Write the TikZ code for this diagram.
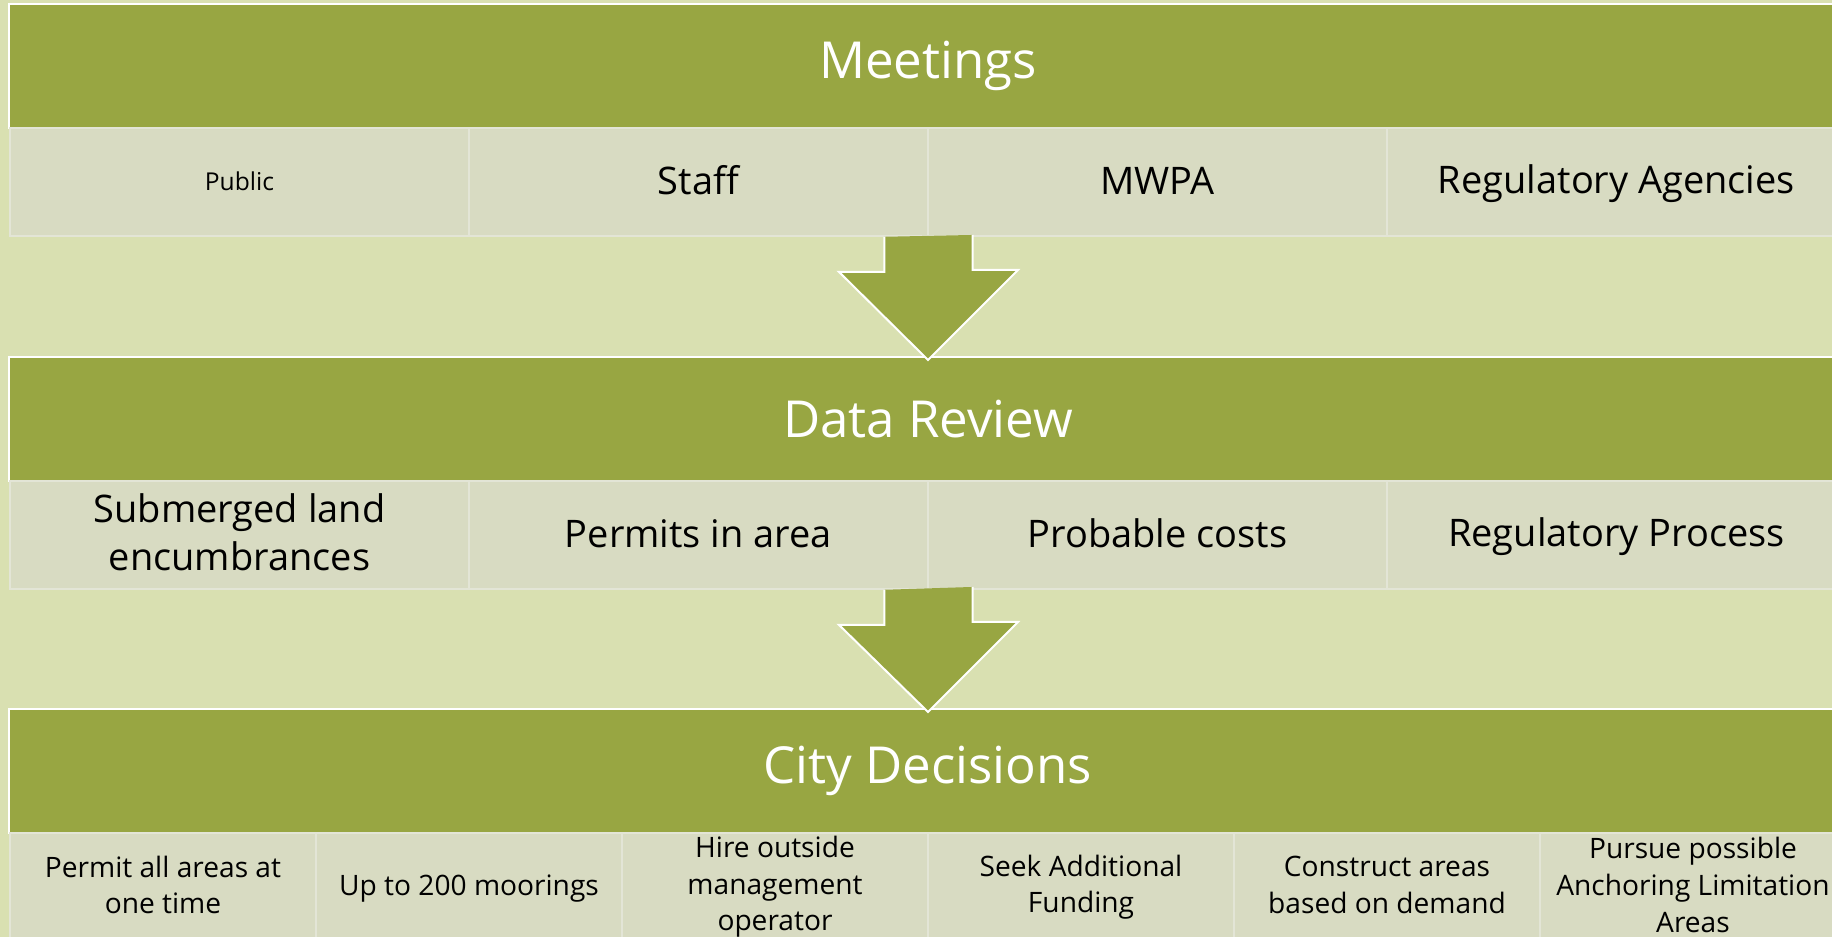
\documentclass[tikz,border=0pt]{standalone}
\usepackage{fontspec}
\setmainfont{Open Sans}

\definecolor{hdrgreen}{HTML}{98A642}
\definecolor{pagebg}{HTML}{D9E0B1}
\definecolor{cellfill}{HTML}{D8DBC2}
\definecolor{celledge}{HTML}{E3E5D6}

% same height and depth for every cell text
\newcommand{\cellstrut}{\rule[-0.16em]{0pt}{1.0em}}

\tikzset{
  header/.style={fill=hdrgreen, draw=white, line width=0.02cm, text=white,
    minimum width=18.36cm, minimum height=1.24cm, inner sep=0pt,
    font=\fontsize{14.5}{17}\selectfont},
  cell/.style={fill=cellfill, draw=celledge, line width=0.015cm, text=black,
    minimum width=4.59cm, minimum height=1.08cm, inner sep=0pt, align=center,
    font=\fontsize{10.8}{13.5}\selectfont,
    execute at begin node=\cellstrut, execute at end node=\cellstrut},
  smallcell/.style={cell, minimum width=3.06cm, font=\fontsize{8}{10.4}\selectfont},
  downarrow/.style={fill=hdrgreen, draw=white, line width=0.02cm, line join=miter}
}

\begin{document}
\begin{tikzpicture}[x=0.01cm, y=-0.01cm]
  \useasboundingbox (0,0) rectangle (1832,937);
  \clip (0,0) rectangle (1832,937);
  \fill[pagebg] (0,0) rectangle (1832,937);

  % Meetings
  \node[header] (meet) at (928,66) {Meetings};
  \node[cell, font=\fontsize{7}{8}\selectfont] (public) at (239.5,182) {Public};
  \node[cell] (staff) at (698.5,182) {Staff};
  \node[cell] (mwpa) at (1157.5,182) {MWPA};
  \node[cell] (agencies) at (1616.5,182) {Regulatory Agencies};

  % Data review
  \node[header] (review) at (928,419) {Data Review};
  \node[cell] (land) at (239.5,535) {Submerged land\\encumbrances};
  \node[cell] (permits) at (698.5,535) {Permits in area};
  \node[cell] (costs) at (1157.5,535) {Probable costs};
  \node[cell] (process) at (1616.5,535) {Regulatory Process};

  % City decisions
  \node[header] (city) at (928,771) {City Decisions};
  \node[smallcell] (allareas) at (163,887) {Permit all areas at\\one time};
  \node[smallcell] (moorings) at (469,887) {Up to 200 moorings};
  \node[smallcell] (operator) at (775,887) {Hire outside\\management\\operator};
  \node[smallcell] (funding) at (1081,887) {Seek Additional\\Funding};
  \node[smallcell] (demand) at (1387,887) {Construct areas\\based on demand};
  \node[smallcell] (anchoring) at (1693,887) {Pursue possible\\Anchoring Limitation\\Areas};

  % block arrows (open at the top, so no white edge there)
  \filldraw[downarrow] ([xshift=-0.445cm]staff.south east) -- ++(0,35) -- ++(-45.5,0)
    -- ([yshift=-0.04cm]review.north) -- ++(90,-90) -- ++(-45.5,0) -- ++(0,-35);
  \filldraw[downarrow] ([xshift=-0.445cm]permits.south east) -- ++(0,35) -- ++(-45.5,0)
    -- ([yshift=-0.04cm]city.north) -- ++(90,-90) -- ++(-45.5,0) -- ++(0,-35);
\end{tikzpicture}
\end{document}
